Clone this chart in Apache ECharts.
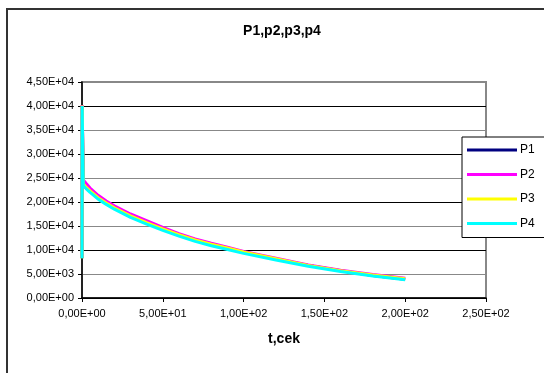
<!DOCTYPE html>
<html>
<head>
<meta charset="utf-8">
<script src="https://cdn.jsdelivr.net/npm/echarts@6/dist/echarts.min.js"></script>
<style>
	html, body { margin: 0; padding: 0; background: #fff; }
	#chart { width: 544px; height: 373px; }
</style>
</head>
<body>
<div id="chart"></div>
<script>
const seriesNames = ['P1', 'P2', 'P3', 'P4'];
const seriesColors = ['#000080', '#FF00FF', '#FFFF00', '#00FFFF'];
const timeValues = [0, 0.1, 0.8, 2.5, 5, 10, 15, 20, 30, 40, 50, 60, 70, 80, 90, 100, 120, 140, 160, 180, 200];
const p1Values = [8300, 40100, 23600, 23000, 22200, 20800, 19700, 18700, 17000, 15600, 14300, 13100, 12000, 11100, 10300, 9500, 8100, 6800, 5700, 4700, 3900];
const p2Values = [8400, 40200, 24600, 23900, 22900, 21400, 20200, 19200, 17500, 16100, 14700, 13400, 12300, 11400, 10600, 9700, 8300, 6900, 5800, 4900, 4100];
const p3Values = [8300, 40100, 23800, 23100, 22300, 20900, 19800, 18800, 17100, 15700, 14400, 13200, 12100, 11200, 10400, 9600, 8200, 6800, 5700, 4800, 4000];
const p4Values = [8300, 40000, 23400, 22800, 22000, 20600, 19500, 18500, 16800, 15400, 14100, 12900, 11800, 10900, 10100, 9300, 7900, 6600, 5500, 4600, 3800];
const allValues = [p1Values, p2Values, p3Values, p4Values];

const fontFamily = '"Liberation Sans", Arial, sans-serif';

function sciFormat(v) {
	const parts = Number(v).toExponential(2).split('e');
	const mant = parts[0].replace('.', ',');
	const expNum = parseInt(parts[1], 10);
	const sign = expNum < 0 ? '-' : '+';
	const expStr = String(Math.abs(expNum)).padStart(2, '0');
	return mant + 'E' + sign + expStr;
}

document.addEventListener('DOMContentLoaded', function() {
	const chart = echarts.init(document.getElementById('chart'));
	const series = seriesNames.map(function(name, i) {
		return {
			name: name,
			type: 'line',
			symbol: 'none',
			smooth: false,
			lineStyle: { width: 3, color: seriesColors[i] },
			itemStyle: { color: seriesColors[i] },
			data: timeValues.map(function(t, j) { return [t, allValues[i][j]]; })
		};
	});
	const option = {
		animation: false,
		backgroundColor: '#fff',
		textStyle: { fontFamily: fontFamily },
		title: {
			text: 'P1,p2,p3,p4',
			left: 277,
			top: 19,
			textAlign: 'center',
			textStyle: { fontFamily: fontFamily, fontSize: 14, fontWeight: 'bold', color: '#000' }
		},
		graphic: [
			{
				type: 'rect',
				shape: { x: 7, y: 9, width: 700, height: 600 },
				style: { fill: null, stroke: '#333', lineWidth: 2 },
				silent: true
			}
		],
		legend: {
			orient: 'vertical',
			left: 462,
			top: 137,
			width: 100,
			padding: [7, 40, 8, 5],
			icon: 'rect',
			itemWidth: 50,
			itemHeight: 3,
			itemGap: 12.5,
			backgroundColor: '#fff',
			borderColor: '#000',
			borderWidth: 1,
			textStyle: { fontFamily: fontFamily, fontSize: 12, color: '#000', padding: [0, 0, 0, -2] },
			data: seriesNames
		},
		grid: {
			left: 82,
			right: 58,
			top: 82,
			bottom: 75,
			show: true,
			borderColor: '#888',
			borderWidth: 2,
			backgroundColor: '#fff'
		},
		xAxis: {
			type: 'value',
			min: 0,
			max: 250,
			interval: 50,
			name: 't,cek',
			nameLocation: 'middle',
			nameGap: 34,
			nameTextStyle: { fontFamily: fontFamily, fontSize: 14, fontWeight: 'bold', color: '#000' },
			axisLine: { show: true, onZero: false, lineStyle: { color: '#000', width: 1.5 } },
			axisTick: { show: true, inside: false, length: 4, lineStyle: { color: '#000' } },
			axisLabel: { formatter: sciFormat, fontSize: 11, color: '#000', margin: 10, fontFamily: fontFamily },
			splitLine: { show: false }
		},
		yAxis: {
			type: 'value',
			min: 0,
			max: 45000,
			interval: 5000,
			axisLine: { show: true, onZero: false, lineStyle: { color: '#000', width: 1.5 } },
			axisTick: { show: true, inside: false, length: 4, lineStyle: { color: '#000' } },
			axisLabel: { formatter: sciFormat, fontSize: 11, color: '#000', margin: 8, fontFamily: fontFamily },
			splitLine: { show: true, lineStyle: { color: ['#000', '#888'], width: 1 } }
		},
		series: series
	};
	chart.setOption(option);
	window.addEventListener('resize', function() {
		chart.resize();
	});
});
</script>
</body>
</html>
